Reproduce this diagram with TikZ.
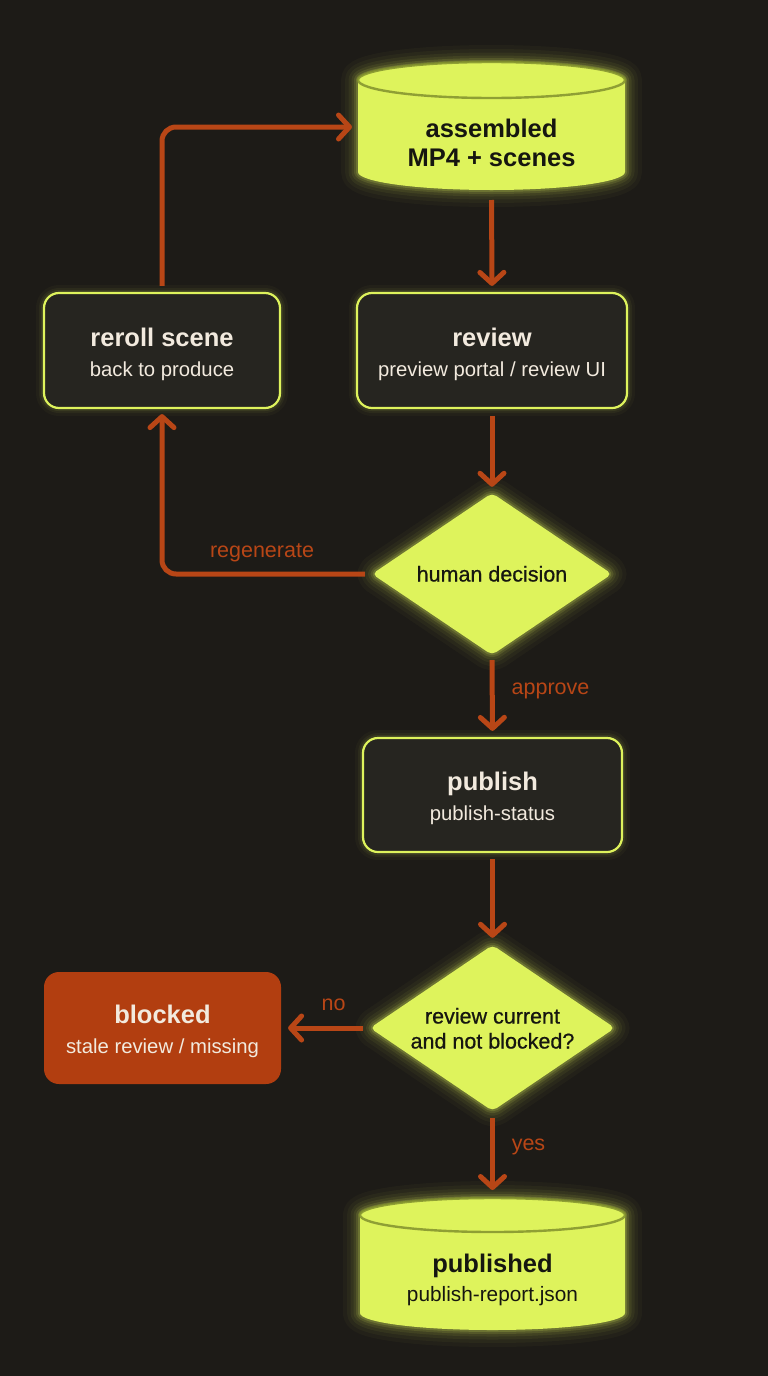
\documentclass[tikz,border=0pt]{standalone}
\usepackage{fontspec}
\setmainfont{Liberation Sans}
\newfontfamily\medfont[FakeBold=0.7]{Liberation Sans}
\usetikzlibrary{arrows.meta,shapes.geometric}
\definecolor{bg}{RGB}{29,27,23}
\definecolor{lime}{RGB}{222,243,92}
\definecolor{boxfill}{RGB}{38,37,32}
\definecolor{rust}{RGB}{184,70,22}
\definecolor{blockfill}{RGB}{178,62,16}
\definecolor{cream}{RGB}{242,234,222}
\definecolor{ink}{RGB}{22,22,16}
\definecolor{rim}{RGB}{130,145,45}
\tikzset{
  glow/.style={
    preaction={draw=lime, draw opacity=0.03, line width=34pt, line join=round},
    preaction={draw=lime, draw opacity=0.04, line width=26pt, line join=round},
    preaction={draw=lime, draw opacity=0.06, line width=19pt, line join=round},
    preaction={draw=lime, draw opacity=0.08, line width=13pt, line join=round},
    preaction={draw=lime, draw opacity=0.12, line width=8pt, line join=round},
    preaction={draw=lime, draw opacity=0.18, line width=4pt, line join=round}},
  glowsoft/.style={
    preaction={draw=lime, draw opacity=0.03, line width=16pt},
    preaction={draw=lime, draw opacity=0.05, line width=10pt},
    preaction={draw=lime, draw opacity=0.08, line width=6pt}},
  box/.style={draw=lime, line width=2.2pt, fill=boxfill, rounded corners=15pt,
    inner sep=0pt},
  decision/.style={diamond, shape aspect=1.5, fill=lime, glow, inner sep=0pt,
    rounded corners=5pt},
  spot/.style={inner sep=0pt, outer sep=0pt},
  ttl/.style={anchor=base, inner sep=0pt, text=cream, font=\bfseries\fontsize{25.5}{30}\selectfont},
  sub/.style={anchor=base, inner sep=0pt, text=cream, font=\fontsize{20.3}{24}\selectfont},
  dtxt/.style={anchor=base, inner sep=0pt, text=ink, font=\medfont\fontsize{21.5}{26}\selectfont},
  conn/.style={draw=rust, line width=5pt, line join=round,
    -{Straight Barb[length=11pt,width=24pt,round]}},
  lbl/.style={anchor=base, inner sep=0pt, text=rust, font=\fontsize{21.5}{26}\selectfont}
}
\begin{document}
\begin{tikzpicture}[x=1pt,y=1pt]
\useasboundingbox (0,0) rectangle (768,-1376);
\fill[bg] (0,0) rectangle (768,-1376);

% top cylinder
\fill[lime, glow] (358,-80) -- (358,-172)
  arc[start angle=180, end angle=360, x radius=133.5, y radius=18]
  -- (625,-80)
  arc[start angle=0, end angle=180, x radius=133.5, y radius=18] -- cycle;
\draw[rim, line width=2.4pt, draw opacity=0.85] (491.5,-80) ellipse[x radius=133.5, y radius=18];
\node[spot, minimum width=267pt, minimum height=128pt] (asm) at (491.5,-126) {};
\node[ttl, text=ink] (asm1) at (491.5,-137) {assembled};
\node[ttl, text=ink] (asm2) at (491.5,-166) {MP4 + scenes};

% reroll box
\node[box, glowsoft, minimum width=236pt, minimum height=115pt] (rr) at (162,-350.5) {};
\node[ttl] (rr1) at (162,-346) {reroll scene};
\node[sub] (rr2) at (162,-376) {back to produce};

% review box
\node[box, glowsoft, minimum width=270pt, minimum height=115pt] (rev) at (492,-350.5) {};
\node[ttl] (rev1) at (492,-346) {review};
\node[sub] (rev2) at (492,-376) {preview portal / review UI};

% decision 1
\node[decision, minimum width=240pt, minimum height=162pt] (hd) at (492,-574) {};
\node[dtxt] (hd1) at (492,-581.5) {human decision};

% publish box
\node[box, glowsoft, minimum width=259pt, minimum height=114pt] (pb) at (492.5,-795) {};
\node[ttl] (pb1) at (492.5,-790) {publish};
\node[sub] (pb2) at (492.5,-820) {publish-status};

% decision 2
\node[decision, minimum width=245pt, minimum height=166pt] (d2) at (492.5,-1028) {};
\node[dtxt] (d21) at (492.5,-1023.5) {review current};
\node[dtxt] (d22) at (492.5,-1048.5) {and not blocked?};

% blocked
\node[box, draw=none, fill=blockfill, minimum width=237pt, minimum height=112pt] (blk) at (162.5,-1028) {};
\node[ttl] (blk1) at (162.5,-1023) {blocked};
\node[sub] (blk2) at (162.5,-1053) {stale review / missing};

% bottom cylinder
\fill[lime, glow] (360,-1215) -- (360,-1313)
  arc[start angle=180, end angle=360, x radius=132.5, y radius=17]
  -- (625,-1215)
  arc[start angle=0, end angle=180, x radius=132.5, y radius=17] -- cycle;
\draw[rim, line width=2.4pt, draw opacity=0.85] (492.5,-1215) ellipse[x radius=132.5, y radius=17];
\node[spot, minimum width=265pt, minimum height=132pt] (pub) at (492.5,-1264) {};
\node[ttl, text=ink] (pub1) at (492.5,-1272.5) {published};
\node[sub, text=ink, font=\fontsize{20.8}{24}\selectfont] (pub2) at (492.5,-1301.5) {publish-report.json};

% connectors
\draw[conn, shorten <=10pt, shorten >=6pt] (asm.south) -- (rev.north);
\draw[conn, shorten <=7pt, shorten >=6pt] (rev.south) -- (hd.north);
\draw[conn, shorten <=5pt, shorten >=6pt] (hd.south) -- (pb.north);
\node[lbl] (lapp) at (550.5,-694) {approve};
\draw[conn, shorten <=6pt, shorten >=7pt] (pb.south) -- (d2.north);
\draw[conn, shorten <=7pt, shorten >=8pt] (d2.south) -- (pub.north);
\node[lbl] (lyes) at (528.5,-1150.5) {yes};
\draw[conn, shorten <=7pt, shorten >=6pt] (d2.west) -- (blk.east);
\node[lbl] (lno) at (333.5,-1010.5) {no};
\draw[conn, rounded corners=14pt, shorten <=7pt, shorten >=5pt] (hd.west) -| (rr.south);
\node[lbl] (lreg) at (262,-557) {regenerate};
\draw[conn, rounded corners=14pt, shorten <=6pt, shorten >=6pt] (rr.north) |- ([yshift=-1pt]asm.west);
\end{tikzpicture}
\end{document}
